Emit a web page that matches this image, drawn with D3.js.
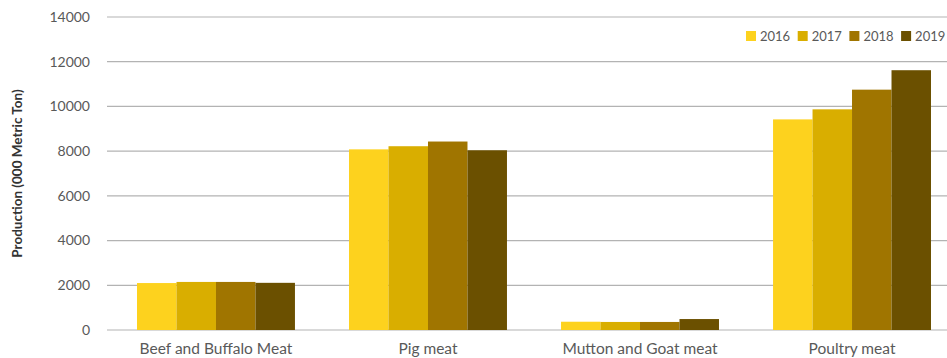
<!DOCTYPE html>
<html>
<head>
<meta charset="utf-8">
<script src="https://cdn.jsdelivr.net/npm/d3@7"></script>
<style>
  body { margin: 0; background: #fff; }
  svg text { font-family: Lato, "Open Sans", sans-serif; fill: #595959; }
</style>
</head>
<body>
<svg id="chart" width="947" height="358"></svg>
<script>
let categories = ["Beef and Buffalo Meat", "Pig meat", "Mutton and Goat meat", "Poultry meat"];
let years = ["2016", "2017", "2018", "2019"];
let v2016 = [2100, 8080, 370, 9420];
let v2017 = [2150, 8220, 360, 9870];
let v2018 = [2150, 8430, 360, 10750];
let v2019 = [2110, 8040, 490, 11620];
let yTicks = [0, 2000, 4000, 6000, 8000, 10000, 12000, 14000];
let colors = ["#FDD21E", "#D9AE00", "#A07500", "#6B5000"];

let series = [v2016, v2017, v2018, v2019];
let svg = d3.select("#chart");

let plotLeft = 107, plotRight = 961, plotTop = 17, plotBottom = 330;

let x0 = d3.scaleBand()
    .domain(categories)
    .range([plotLeft, plotRight])
    .paddingInner(0.255)
    .paddingOuter(0.1415);

let x1 = d3.scaleBand()
    .domain(years)
    .range([0, x0.bandwidth()]);

let y = d3.scaleLinear()
    .domain([0, 14000])
    .range([plotBottom, plotTop]);

// gridlines
svg.append("g")
    .selectAll("line")
    .data(yTicks)
    .enter().append("line")
    .attr("x1", plotLeft)
    .attr("x2", 947)
    .attr("y1", d => y(d))
    .attr("y2", d => y(d))
    .attr("stroke", "#b3b3b3")
    .attr("stroke-width", 1.2);

// tick labels
svg.append("g")
    .selectAll("text")
    .data(yTicks)
    .enter().append("text")
    .attr("x", 90)
    .attr("y", d => y(d))
    .attr("dy", "0.35em")
    .attr("text-anchor", "end")
    .style("font-size", "14px")
    .text(d => d);

// bars
let groups = svg.append("g")
    .selectAll("g")
    .data(categories)
    .enter().append("g")
    .attr("transform", d => "translate(" + x0(d) + ",0)");

groups.selectAll("rect")
    .data((d, i) => years.map((yr, j) => ({ year: yr, value: series[j][i], c: colors[j] })))
    .enter().append("rect")
    .attr("x", d => x1(d.year))
    .attr("width", x1.bandwidth())
    .attr("y", d => y(d.value))
    .attr("height", d => y(0) - y(d.value))
    .attr("fill", d => d.c);

// category labels
svg.append("g")
    .selectAll("text")
    .data(categories)
    .enter().append("text")
    .attr("x", d => x0(d) + x0.bandwidth() / 2)
    .attr("y", 354)
    .attr("text-anchor", "middle")
    .style("font-size", "15.5px")
    .text(d => d);

// y axis title
svg.append("text")
    .attr("transform", "translate(22," + ((plotTop + plotBottom) / 2) + ") rotate(-90)")
    .attr("text-anchor", "middle")
    .style("font-size", "13.5px")
    .style("font-weight", "bold")
    .style("fill", "#333")
    .text("Production (000 Metric Ton)");

// legend
let legend = svg.append("g")
    .selectAll("g")
    .data(years)
    .enter().append("g")
    .attr("transform", (d, i) => "translate(" + (746 + i * 51.7) + ",31)");

legend.append("rect")
    .attr("width", 10)
    .attr("height", 10)
    .attr("fill", (d, i) => colors[i]);

legend.append("text")
    .attr("x", 14)
    .attr("y", 5)
    .attr("dy", "0.35em")
    .style("font-size", "13px")
    .text(d => d);
</script>
</body>
</html>
